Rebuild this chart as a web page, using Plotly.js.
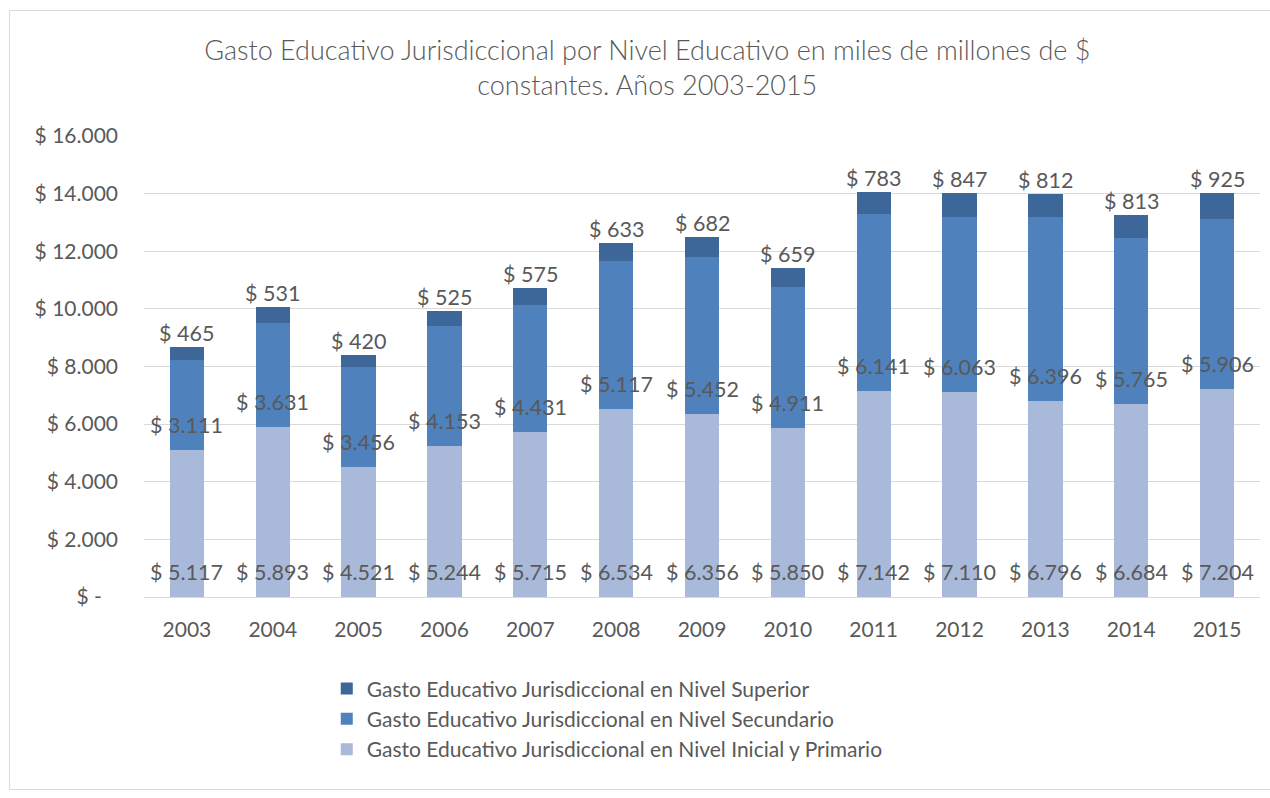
<!DOCTYPE html>
<html>
<head>
<meta charset="utf-8">
<script src="https://cdn.plot.ly/plotly-3.0.1.min.js"></script>
<style>
  html, body { margin: 0; padding: 0; background: #fff; overflow: hidden; }
  #frame { position: absolute; left: 9px; top: 10px; width: 1262px; height: 778px; border: 1px solid #d9d9d9; }
  #chart { width: 1262px; height: 778px; }
</style>
</head>
<body>
<div id="frame"><div id="chart"></div></div>
<script>
const years = ["2003","2004","2005","2006","2007","2008","2009","2010","2011","2012","2013","2014","2015"];
const inicialPrimario = [5117,5893,4521,5244,5715,6534,6356,5850,7142,7110,6796,6684,7204];
const secundario = [3111,3631,3456,4153,4431,5117,5452,4911,6141,6063,6396,5765,5906];
const superior = [465,531,420,525,575,633,682,659,783,847,812,813,925];
const yTickVals = [0,2000,4000,6000,8000,10000,12000,14000,16000];
const yTickText = ["$ -\u00a0\u00a0\u00a0","$ 2.000","$ 4.000","$ 6.000","$ 8.000","$ 10.000","$ 12.000","$ 14.000","$ 16.000"];

const names = [
  "Gasto Educativo Jurisdiccional en Nivel Inicial y Primario",
  "Gasto Educativo Jurisdiccional en Nivel Secundario",
  "Gasto Educativo Jurisdiccional en Nivel Superior"
];
const colors = ["#a9b9d9", "#4f81bd", "#3d6699"];

function fmt(v) {
  const s = String(Math.round(v));
  return "$ " + s.replace(/\B(?=(\d{3})+(?!\d))/g, ".");
}

const FONT = "Lato, 'Open Sans', sans-serif";
const TXT = "#595959";
const LBL = 21.5;

const series = [inicialPrimario, secundario, superior];
const traces = series.map((vals, i) => ({
  type: "bar",
  x: years,
  y: vals,
  name: names[i],
  marker: { color: colors[i] },
  hoverinfo: "x+y+name"
}));

const annotations = [];
years.forEach((yr, j) => {
  const b2 = inicialPrimario[j];
  const top = inicialPrimario[j] + secundario[j] + superior[j];
  annotations.push({ x: j, y: 0, text: fmt(inicialPrimario[j]), showarrow: false, yanchor: "middle", yshift: 25, font: { family: FONT, size: LBL, color: TXT } });
  annotations.push({ x: j, y: b2, text: fmt(secundario[j]), showarrow: false, yanchor: "middle", yshift: 25, font: { family: FONT, size: LBL, color: TXT } });
  annotations.push({ x: j, y: top, text: fmt(superior[j]), showarrow: false, yanchor: "middle", yshift: 14, font: { family: FONT, size: LBL, color: TXT } });
});

const layout = {
  width: 1262,
  height: 778,
  paper_bgcolor: "#ffffff",
  plot_bgcolor: "#ffffff",
  barmode: "stack",
  bargap: 0.6,
  margin: { l: 134, r: 12, t: 125, b: 192, autoexpand: false },
  font: { family: FONT, color: TXT },
  title: {
    text: "Gasto Educativo Jurisdiccional por Nivel Educativo en miles de millones de $<br>constantes. Años 2003-2015",
    font: { family: FONT, size: 27, color: TXT, weight: 300 },
    x: 0.505, xanchor: "center",
    y: 0.937, yanchor: "top", yref: "container"
  },
  xaxis: {
    type: "category",
    range: [-0.5, 12.5],
    tickfont: { family: FONT, size: 21, color: TXT },
    showgrid: false,
    showline: true,
    linecolor: "#d9d9d9",
    linewidth: 1,
    ticks: "",
    ticklabelstandoff: 14
  },
  yaxis: {
    range: [0, 16000],
    tickvals: yTickVals,
    ticktext: yTickText,
    tickfont: { family: FONT, size: 21, color: TXT },
    showgrid: true,
    gridcolor: "#d9d9d9",
    gridwidth: 1,
    zeroline: false,
    showline: false,
    ticks: "",
    ticklabelstandoff: 25
  },
  legend: {
    orientation: "v",
    traceorder: "reversed",
    x: 0.251, xref: "container", xanchor: "left",
    y: 0.155, yref: "container", yanchor: "top",
    font: { family: FONT, size: 21, color: TXT },
    bgcolor: "rgba(0,0,0,0)",
    itemclick: false
  },
  annotations: annotations,
  showlegend: true
};

Plotly.newPlot("chart", traces, layout, { displayModeBar: false });
</script>
</body>
</html>
